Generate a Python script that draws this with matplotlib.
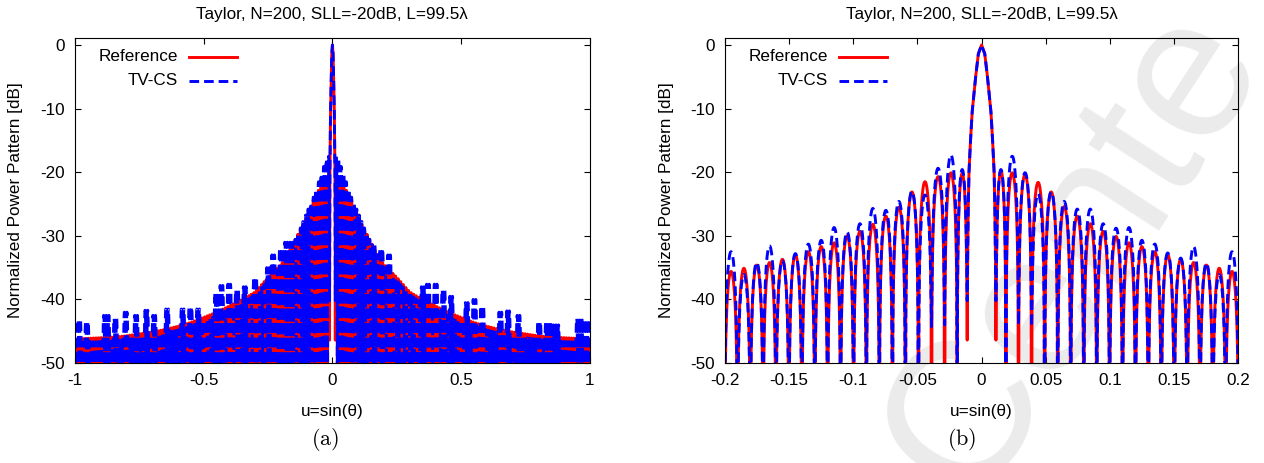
import matplotlib
matplotlib.use("Agg")
import matplotlib.pyplot as plt
import numpy as np

plt.rcParams['font.family'] = ['Liberation Sans', 'DejaVu Sans']
plt.rcParams['axes.unicode_minus'] = False
plt.rcParams['mathtext.fontset'] = 'cm'

# ---------------- data ----------------
title = 'Taylor, N=200, SLL=-20dB, L=99.5λ'
L_wl = 99.5                      # aperture length in wavelengths -> lobe spacing 1/L

# main lobe (symmetric), u >= 0
main_u = [0.0, 0.0025, 0.0046, 0.0060, 0.0073, 0.0086, 0.0098, 0.0104, 0.0108]
main_db = [0.0, -1.4, -5.0, -7.8, -10.5, -15.0, -20.0, -26.0, -33.0]

# side lobe nulls, u > 0 (mirrored for u < 0)
nulls = [0.0112, 0.0190, 0.0288, 0.0390, 0.0492, 0.0594, 0.0695, 0.0797, 0.0898,
         0.0998, 0.1099, 0.1200, 0.1300, 0.1401, 0.1502, 0.1603, 0.1703, 0.1803,
         0.1903, 0.2003, 0.2103]

# (b) side lobe peaks [dB], from the main lobe outwards
ref_right = [-19.8, -20.1, -20.4, -21.6, -23.1, -25.4, -26.9, -28.1, -29.3, -30.1,
             -31.1, -31.7, -32.5, -33.0, -33.7, -34.2, -34.6, -35.1, -35.6, -36.0]
ref_left = [-20.2, -20.1, -20.7, -21.5, -23.1, -25.5, -26.9, -28.2, -29.3, -30.0,
            -31.1, -31.7, -32.5, -33.0, -33.7, -34.2, -34.6, -35.1, -35.6, -36.0]
tv_right = [-19.6, -17.5, -20.1, -23.4, -23.1, -24.6, -25.8, -25.8, -28.1, -28.8,
            -28.7, -30.7, -31.3, -32.7, -33.5, -31.7, -34.3, -36.1, -32.5, -35.0]
tv_left = [-19.6, -17.3, -19.4, -23.6, -23.0, -24.6, -26.0, -25.7, -28.1, -29.4,
           -28.7, -30.7, -31.3, -32.8, -33.9, -31.6, -34.2, -36.1, -32.5, -35.0]

# null depths [dB]
ref_null_db = [-46.4] + [-90] * 20
tv_null_db = [-40.2, -90, -44.0, -44.3] + [-90] * 17

# (a) side lobe envelope vs |u|
env_u = [0.015, 0.025, 0.05, 0.075, 0.10, 0.125, 0.15, 0.175, 0.20, 0.25, 0.30, 0.35,
         0.40, 0.45, 0.50, 0.55, 0.60, 0.65, 0.70, 0.75, 0.80, 0.85, 0.90, 0.95, 1.00]
ref_env = [-20.2, -21.0, -22.5, -24.5, -27.0, -29.0, -31.0, -33.0, -34.5, -36.5, -38.8,
           -40.0, -41.0, -42.0, -42.8, -43.6, -44.2, -44.7, -45.1, -45.4, -45.7, -45.9,
           -46.0, -46.1, -46.2]
tv_env = [-17.5, -18.0, -21.0, -24.0, -26.3, -28.8, -31.0, -33.0, -34.8, -37.0, -39.2,
          -40.6, -41.5, -42.6, -43.4, -44.2, -44.8, -45.3, -45.7, -46.0, -46.3, -46.5,
          -46.6, -46.7, -46.8]
# (a) blue tufts sticking out of the envelope: position, level
tuft_u = [-0.985, -0.955, -0.88, -0.845, -0.80, -0.76, -0.72, -0.69, -0.645, -0.58,
          -0.55, -0.52, -0.45, -0.43, -0.40, -0.37, -0.34, -0.30, -0.25, -0.23,
          -0.20, -0.18, -0.16,
          0.16, 0.19, 0.22, 0.35, 0.37, 0.40, 0.43, 0.46, 0.52, 0.55, 0.58, 0.65,
          0.68, 0.72, 0.80, 0.84, 0.87, 0.96, 0.99]
tuft_db = [-43.2, -43.5, -42.5, -43.0, -42.0, -42.5, -41.7, -42.5, -41.5, -41.5,
           -41.2, -41.5, -39.0, -37.8, -37.6, -38.5, -38.0, -36.5, -35.0, -33.0,
           -32.0, -31.0, -31.0,
           -31.5, -32.0, -33.0, -38.0, -37.6, -37.6, -38.5, -39.5, -40.5, -40.0, -41.0,
           -42.0, -41.8, -42.5, -43.5, -43.6, -44.0, -43.0, -43.2]


def lobes(nl, pk, dp, n=30):
    # one lobe between each pair of nulls, peaking at the given level
    us, vs = [], []
    t = np.linspace(0, 1, n)
    for i, p in enumerate(pk):
        a, b = nl[i], nl[i + 1]
        floor = 10 ** (dp[i] / 10) * (1 - t) + 10 ** (dp[i + 1] / 10) * t
        us.append(a + (b - a) * t)
        vs.append(10 * np.log10(10 ** (p / 10) * np.sin(np.pi * t) ** 2 + floor))
    return np.concatenate(us), np.concatenate(vs)


def pattern(nl, left_pk, right_pk, null_db):
    ru, rv = lobes(nl, right_pk, null_db)
    lu, lv = lobes(nl, left_pk, null_db)
    mu = np.r_[-np.array(main_u[::-1]), np.array(main_u[1:])]
    mv = np.r_[main_db[::-1], main_db[1:]]
    u = np.r_[-lu[::-1], -nl[0], mu, nl[0], ru]
    v = np.r_[lv[::-1], null_db[0], mv, null_db[0], rv]
    return u, v


def with_tufts(cent, base, sign):
    out = np.array(base, dtype=float)
    for tu, td in zip(tuft_u, tuft_db):
        near = np.abs(sign * cent - tu) < 0.012
        out[near] = np.maximum(out[near], td)
    return out


# lobe grid for the full range plot
step = 1.0 / L_wl
nulls_a = np.r_[nulls[:2], np.arange(nulls[1] + step, 1.0 + step, step)]
cent_a = (nulls_a[:-1] + nulls_a[1:]) / 2
ref_db_a = [ref_null_db[0]] + [-90] * (len(nulls_a) - 1)
tv_db_a = [tv_null_db[0]] + [-90] * (len(nulls_a) - 1)
ref_a = np.interp(cent_a, env_u, ref_env)
tv_a = np.interp(cent_a, env_u, tv_env)

fig = plt.figure(figsize=(12.64, 4.63), dpi=100)
fig.text(0.768, -0.09, 'Cente', rotation=57, rotation_mode='anchor', ha='left',
         va='baseline', fontsize=145, color='#ebebeb', zorder=-5)
ax1 = fig.add_axes([0.0593, 0.216, 0.4074, 0.702])
ax2 = fig.add_axes([0.5736, 0.216, 0.4059, 0.702])

# ---- (a) full range
u, v = pattern(nulls_a, ref_a, ref_a, ref_db_a)
ax1.plot(u, v, color='#ff0000', lw=2.1)
u, v = pattern(nulls_a, with_tufts(cent_a, tv_a, -1), with_tufts(cent_a, tv_a, 1), tv_db_a)
ax1.plot(u, v, color='#0000ff', lw=2.1, ls=(0, (3.3, 1.7)))
ax1.set_xlim(-1, 1)
ax1.set_xticks([-1, -0.5, 0, 0.5, 1])
ax1.set_xticklabels(['-1', '-0.5', '0', '0.5', '1'])

# ---- (b) zoom
u, v = pattern(nulls, ref_left, ref_right, ref_null_db)
ax2.plot(u, v, color='#ff0000', lw=2.1)
u, v = pattern(nulls, tv_left, tv_right, tv_null_db)
ax2.plot(u, v, color='#0000ff', lw=2.1, ls=(0, (3.3, 1.7)))
ax2.set_xlim(-0.2, 0.2)
ax2.set_xticks([-0.2, -0.15, -0.1, -0.05, 0, 0.05, 0.1, 0.15, 0.2])
ax2.set_xticklabels(['-0.2', '-0.15', '-0.1', '-0.05', '0', '0.05', '0.1', '0.15', '0.2'])

fs = 12.3
for ax, tag, xt in [(ax1, '(a)', 0.257), (ax2, '(b)', 0.761)]:
    ax.set_facecolor('none')
    ax.set_ylim(-50, 1.1)
    ax.set_yticks([0, -10, -20, -30, -40, -50])
    ax.tick_params(direction='in', top=True, right=True, length=4, labelsize=fs, pad=7)
    ax.set_title(title, fontsize=fs, pad=14)
    ax.set_xlabel('u=sin(θ)', fontsize=fs)
    ax.xaxis.set_label_coords(0.5, -0.125)
    ax.set_ylabel('Normalized Power Pattern [dB]', fontsize=fs)
    ax.yaxis.set_label_coords(-0.1, 0.5)
    # gnuplot style key: text right aligned, sample on its right
    ax.text(0.2, 0.942, 'Reference', transform=ax.transAxes, ha='right', va='center', fontsize=fs)
    ax.text(0.2, 0.868, 'TV-CS', transform=ax.transAxes, ha='right', va='center', fontsize=fs)
    ax.plot([0.222, 0.315], [0.942, 0.942], transform=ax.transAxes, color='#ff0000', lw=2.1)
    ax.plot([0.222, 0.315], [0.868, 0.868], transform=ax.transAxes, color='#0000ff', lw=2.1,
            ls=(0, (3.3, 1.7)))
    fig.text(xt, 0.05, r'$\mathrm{' + tag + '}$', ha='center', va='center', fontsize=16)

fig.savefig('out.png', dpi=100)
